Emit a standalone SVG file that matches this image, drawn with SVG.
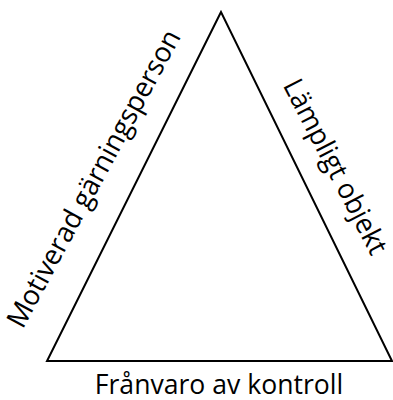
<svg xmlns="http://www.w3.org/2000/svg" width="393" height="400" viewBox="0 0 393 400">
<style>
.lbl{font-family:"Open Sans","Liberation Sans",sans-serif;font-size:28px;fill:#000;text-anchor:middle}
.edge{fill:none;stroke:#000;stroke-width:2}
</style>
<rect width="393" height="400" fill="#fff"/>
<g id="connectors">
<polygon class="edge" points="221,12 47,361 392,361"/>
</g>
<g id="left">
<text class="lbl" transform="translate(102,183) rotate(-61.6) scale(0.97,1)">Motiverad gärningsperson</text>
</g>
<g id="right">
<text class="lbl" transform="translate(327,171) rotate(62.6) scale(0.96,1)">Lämpligt objekt</text>
</g>
<g id="bottom">
<text class="lbl" transform="translate(219,394) scale(0.95,1)">Frånvaro av kontroll</text>
</g>
</svg>
